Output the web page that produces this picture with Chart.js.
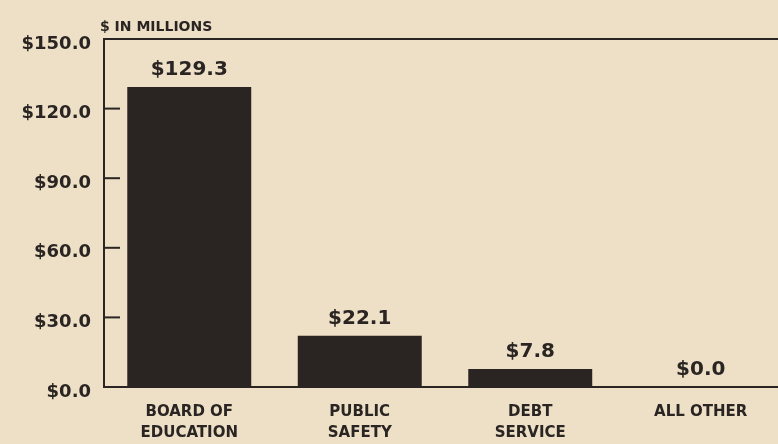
<!DOCTYPE html>
<html>
<head>
<meta charset="utf-8">
<script src="https://cdn.jsdelivr.net/npm/chart.js@4.4.1/dist/chart.umd.min.js"></script>
<style>
  html, body { margin: 0; padding: 0; background: #ede0c6; overflow: hidden; }
  #wrap { width: 786px; height: 444px; position: relative; }
</style>
</head>
<body>
<div id="wrap"><canvas id="chartBudget"></canvas></div>
<script>
// ---- Données ----
const categories = [["BOARD OF", "EDUCATION"], ["PUBLIC", "SAFETY"], ["DEBT", "SERVICE"], "ALL OTHER"];
const montants = [129.3, 22.1, 7.8, 0.0];
const ticksY = [0, 30, 60, 90, 120, 150];
const titreAxe = "$ IN MILLIONS";

const encre = "#2a2522";
const police = "'DejaVu Sans', sans-serif";

// ---- Plugin : ticks intérieurs, valeurs, titre ----
const decor = {
  id: "decor",
  afterDatasetsDraw(chart) {
    const { ctx, chartArea, scales } = chart;
    ctx.save();
    ctx.strokeStyle = encre;
    ctx.lineWidth = 2;
    ticksY.slice(1, -1).forEach(v => {
      const y = scales.y.getPixelForValue(v);
      ctx.beginPath();
      ctx.moveTo(chartArea.left, y);
      ctx.lineTo(chartArea.left + 16, y);
      ctx.stroke();
    });

    ctx.fillStyle = encre;
    ctx.font = "bold 20px " + police;
    ctx.textAlign = "center";
    ctx.textBaseline = "bottom";
    const meta = chart.getDatasetMeta(0);
    meta.data.forEach((bar, i) => {
      ctx.fillText("$" + montants[i].toFixed(1), bar.x, bar.y - 7);
    });

    ctx.font = "bold 14px " + police;
    ctx.textAlign = "left";
    ctx.fillText(titreAxe, chartArea.left - 4, chartArea.top - 5);
    ctx.restore();
  }
};

window.onload = () => {
  new Chart(document.getElementById("chartBudget"), {
    type: "bar",
    data: {
      labels: categories,
      datasets: [{
        data: montants,
        backgroundColor: encre,
        borderWidth: 0,
        categoryPercentage: 0.727,
        barPercentage: 1
      }]
    },
    options: {
      responsive: true,
      maintainAspectRatio: false,
      animation: false,
      layout: { padding: { top: 39, right: 0, left: 0, bottom: 0 } },
      plugins: { legend: { display: false }, tooltip: { enabled: false } },
      scales: {
        x: {
          grid: { display: false, drawTicks: false },
          border: { display: true, color: encre, width: 2 },
          ticks: {
            color: encre,
            font: { family: police, weight: "bold", size: 15, lineHeight: 1.4 },
            padding: 15,
            maxRotation: 0
          },
          afterFit: s => { s.height = 57; }
        },
        x2: {
          position: "top",
          grid: { display: false, drawTicks: false },
          border: { display: true, color: encre, width: 2 },
          ticks: { display: false },
          afterFit: s => { s.height = 0; }
        },
        y: {
          min: 0,
          max: 150,
          afterBuildTicks: s => { s.ticks = ticksY.map(v => ({ value: v })); },
          grid: { display: false, drawTicks: false },
          border: { display: true, color: encre, width: 2 },
          ticks: {
            color: encre,
            padding: 13,
            labelOffset: 5,
            font: { family: police, weight: "bold", size: 18 },
            callback: v => "$" + v.toFixed(1)
          },
          afterFit: s => { s.width = 104; }
        }
      }
    },
    plugins: [decor]
  });
};
</script>
</body>
</html>
